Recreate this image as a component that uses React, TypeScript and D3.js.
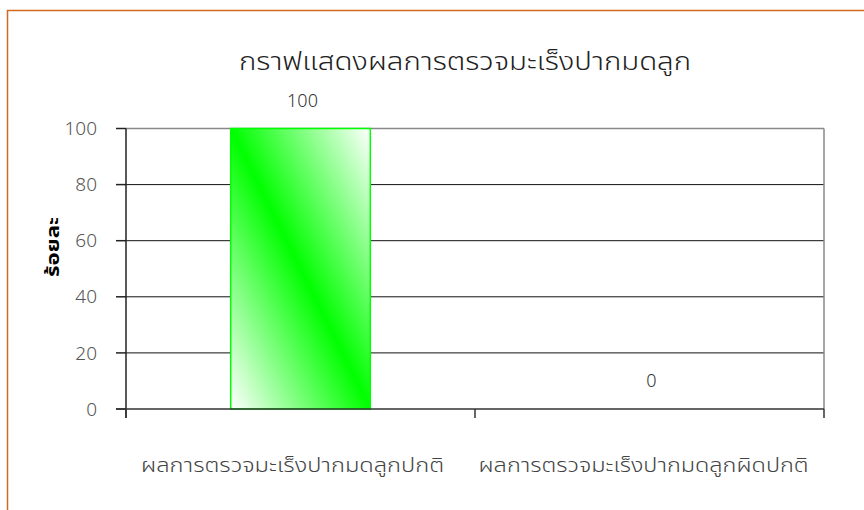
import React from "react";
import * as d3 from "d3";

const categories = ["ผลการตรวจมะเร็งปากมดลูกปกติ", "ผลการตรวจมะเร็งปากมดลูกผิดปกติ"];
const values = [100, 0];
const yTicks = [0, 20, 40, 60, 80, 100];
const title = "กราฟแสดงผลการตรวจมะเร็งปากมดลูก";
const yTitle = "ร้อยละ";

const W = 864;
const H = 510;
const M = { left: 126, right: 824, top: 128.5, bottom: 409 };

export default function App() {
  const x = d3.scaleBand<string>().domain(categories).range([M.left, M.right]).paddingInner(0.6).paddingOuter(0.3);
  const band = d3.scaleBand<string>().domain(categories).range([M.left, M.right]);
  const y = d3.scaleLinear().domain([0, 100]).range([M.bottom, M.top]);
  const font = "'Noto Sans', 'Noto Sans Thai', sans-serif";
  const labelLens = [303, 330];
  return (
    <svg width={W} height={H} style={{ position: "absolute", left: 0, top: 0 }} fontFamily={font}>
      <defs>
        <linearGradient id="g" x1="0" y1="1" x2="1" y2="0">
          <stop offset="0" stopColor="#ffffff" />
          <stop offset="0.5" stopColor="#00ff00" />
          <stop offset="1" stopColor="#ffffff" />
        </linearGradient>
      </defs>
      <rect x={0} y={0} width={W} height={H} fill="#fff" />
      <rect x={7.5} y={10.5} width={W + 20} height={H + 20} fill="none" stroke="#d2691e" strokeWidth={1.5} />
      <text x={465} y={70} textAnchor="middle" fontSize={25} fontWeight={300} fill="#222"
        textLength={452} lengthAdjust="spacingAndGlyphs">{title}</text>
      {/* gridlines */}
      {yTicks.filter((t) => t > 0 && t < 100).map((t) => (
        <line key={t} x1={M.left} x2={M.right} y1={y(t)} y2={y(t)} stroke="#111" strokeWidth={1} />
      ))}
      <line x1={M.left} x2={M.right} y1={y(100)} y2={y(100)} stroke="#888" strokeWidth={1.5} />
      <line x1={M.right} x2={M.right} y1={y(100)} y2={M.bottom} stroke="#888" strokeWidth={1.5} />
      {/* bars */}
      {categories.map((c, i) => (
        values[i] > 0 ? (
          <rect key={c} x={x(c)} y={y(values[i])} width={x.bandwidth()} height={y(0) - y(values[i])}
            fill="url(#g)" stroke="#00ff00" strokeWidth={1.5} />
        ) : null
      ))}
      {/* y axis */}
      <line x1={M.left} x2={M.left} y1={M.top} y2={M.bottom + 9} stroke="#222" strokeWidth={1.5} />
      {yTicks.map((t) => (
        <g key={t}>
          <line x1={M.left - 10} x2={M.left} y1={y(t)} y2={y(t)} stroke="#222" strokeWidth={1.5} />
          <text x={97} y={y(t)} dy="0.35em" textAnchor="end" fontSize={19} fontWeight={300} fill="#555">{t}</text>
        </g>
      ))}
      <text transform={`translate(53,247) rotate(-90)`} textAnchor="middle" dy="0.35em" fontSize={17} fontWeight="bold" fill="#000"
        textLength={60} lengthAdjust="spacingAndGlyphs">{yTitle}</text>
      {/* x axis */}
      <line x1={M.left - 10} x2={M.right} y1={M.bottom} y2={M.bottom} stroke="#333" strokeWidth={1.5} />
      {[M.left, ...categories.map((c) => (band(c) as number) + band.bandwidth())].map((px, i) => (
        <line key={i} x1={px} x2={px} y1={M.bottom} y2={M.bottom + 9} stroke="#333" strokeWidth={1.5} />
      ))}
      {categories.map((c, i) => (
        <text key={c} x={(band(c) as number) + band.bandwidth() / 2 - (i === 0 ? 8 : 6)} y={472} textAnchor="middle" fontSize={19} fontWeight={300} fill="#444"
          textLength={labelLens[i]} lengthAdjust="spacingAndGlyphs">{c}</text>
      ))}
      {/* data labels */}
      {categories.map((c, i) => (
        <text key={c} x={(band(c) as number) + band.bandwidth() / 2 + 2} y={y(values[i]) - 28} textAnchor="middle" dy="0.35em" fontSize={18} fontWeight={300} fill="#333">{values[i]}</text>
      ))}
    </svg>
  );
}
